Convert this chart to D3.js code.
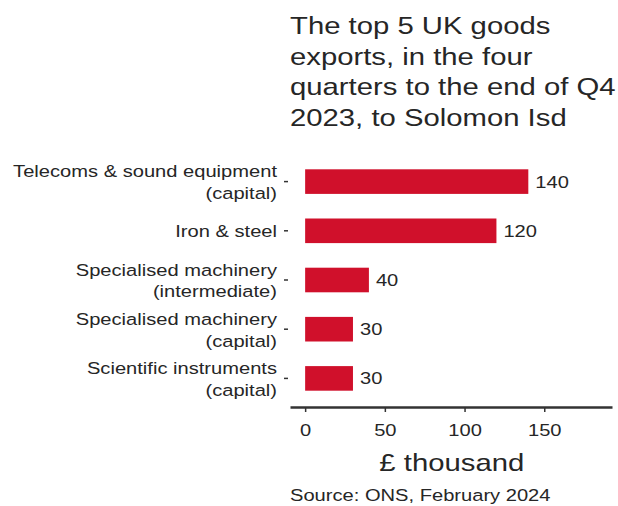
<!DOCTYPE html>
<html><head><meta charset="utf-8">
<script src="https://cdn.jsdelivr.net/npm/d3@7"></script>
<style>body{margin:0;background:#fff;font-family:"Liberation Sans",Arial,sans-serif;}</style>
</head><body>
<svg id="c" width="618" height="506"></svg>
<script>
const categories = [
  ["Telecoms & sound equipment", "(capital)"],
  ["Iron & steel"],
  ["Specialised machinery", "(intermediate)"],
  ["Specialised machinery", "(capital)"],
  ["Scientific instruments", "(capital)"]
];
const values = [140, 120, 40, 30, 30];
const xTicks = [0, 50, 100, 150];
const titleLines = ["The top 5 UK goods", "exports, in the four", "quarters to the end of Q4", "2023, to Solomon Isd"];
const xTitle = "£ thousand";
const source = "Source: ONS, February 2024";

const SX = 1.22;      // horizontal stretch of the reference's text
const small = 16.5, big = 24;
const svg = d3.select("#c");
const txt = "#262626";
const x = d3.scaleLinear().domain([-9.5, 192.5]).range([290, 612]);
const y = d3.scaleBand().domain(d3.range(categories.length)).range([157, 403]).paddingInner(0.5).paddingOuter(0.25);

function stretched(sel, tx, ty) {
  return sel.attr("transform", `translate(${tx},${ty}) scale(${SX},1)`);
}

// title
svg.append("g").selectAll("text").data(titleLines).join("text")
  .each(function(d, i) { stretched(d3.select(this), 290, 34 + i * 30.5); })
  .attr("font-size", big).attr("fill", txt).text(d => d);

// bars
svg.append("g").selectAll("rect").data(values).join("rect")
  .attr("x", x(0)).attr("y", (d, i) => y(i))
  .attr("width", d => x(d) - x(0)).attr("height", y.bandwidth())
  .attr("fill", "#d0102b");

// value labels
svg.append("g").selectAll("text").data(values).join("text")
  .each(function(d, i) { stretched(d3.select(this), x(d) + 7, y(i) + y.bandwidth() / 2 + 6); })
  .attr("font-size", small).attr("fill", txt).text(d => d);

// y axis
const yAxis = svg.append("g").attr("transform", "translate(288,0)")
  .call(d3.axisLeft(y).tickSize(4).tickFormat(""));
yAxis.select(".domain").remove();
yAxis.selectAll(".tick line").attr("stroke", "#333").attr("stroke-width", 1.5);
yAxis.selectAll(".tick").each(function(d) {
  const lines = categories[d];
  const t = d3.select(this).append("text").attr("fill", txt).attr("font-size", small)
    .attr("text-anchor", "end");
  stretched(t, -11, 0);
  const n = lines.length;
  lines.forEach((l, k) => {
    t.append("tspan").attr("x", 0).attr("y", (k - (n - 1) / 2) * 22 + 6.5).text(l);
  });
});

// x axis
const xAxis = svg.append("g").attr("transform", "translate(0,407)")
  .call(d3.axisBottom(x).tickValues(xTicks).tickSize(5).tickSizeOuter(0));
xAxis.select(".domain").attr("stroke", "#333").attr("stroke-width", 2.5);
xAxis.selectAll(".tick line").attr("stroke", "#333").attr("stroke-width", 1.5);
xAxis.selectAll(".tick text").attr("font-size", small).attr("fill", txt)
  .attr("font-family", "Liberation Sans, Arial, sans-serif").attr("dy", "1.27em")
  .attr("transform", `scale(${SX},1)`);

stretched(svg.append("text"), x(92), 471).attr("text-anchor", "middle")
  .attr("font-size", big).attr("fill", txt).text(xTitle);
stretched(svg.append("text"), 290, 501)
  .attr("font-size", small).attr("fill", txt).text(source);
</script>
</body></html>
